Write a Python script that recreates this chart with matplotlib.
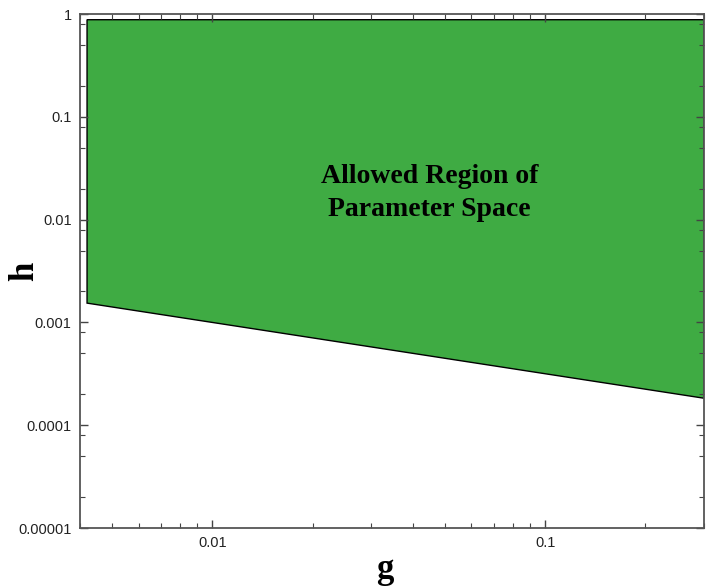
import numpy as np
import matplotlib.pyplot as plt
from matplotlib.ticker import LogLocator, FixedLocator, FixedFormatter, NullFormatter

# corners of the allowed region
g_edge = [0.0042, 0.3]
h_low = [0.00154, 0.000183]
h_top = 0.88

x_ticks = [0.01, 0.1]
x_labels = ['0.01', '0.1']
y_ticks = [1e-5, 1e-4, 1e-3, 1e-2, 1e-1, 1]
y_labels = ['0.00001', '0.0001', '0.001', '0.01', '0.1', '1']

fig = plt.figure(figsize=(7.17, 5.86), dpi=100)
ax = fig.add_axes([80 / 717, 58 / 586, 624 / 717, 514 / 586])

poly_g = [g_edge[0], g_edge[1], g_edge[1], g_edge[0]]
poly_h = [h_low[0], h_low[1], h_top, h_top]
ax.fill(poly_g, poly_h, facecolor='#3fab43', edgecolor='black', linewidth=1.0)

ax.set_xscale('log')
ax.set_yscale('log')
ax.set_xlim(0.004, 0.3)
ax.set_ylim(1e-5, 1)

ax.xaxis.set_major_locator(FixedLocator(x_ticks))
ax.xaxis.set_major_formatter(FixedFormatter(x_labels))
ax.xaxis.set_minor_locator(LogLocator(base=10, subs=np.arange(2, 10)))
ax.xaxis.set_minor_formatter(NullFormatter())
ax.yaxis.set_major_locator(FixedLocator(y_ticks))
ax.yaxis.set_major_formatter(FixedFormatter(y_labels))
ax.yaxis.set_minor_locator(LogLocator(base=10, subs=(2, 5, 8)))
ax.yaxis.set_minor_formatter(NullFormatter())

ax.tick_params(which='both', direction='in', top=True, right=True,
               colors='#444444', labelcolor='#222222')
ax.tick_params(which='major', length=6, width=1, labelsize=10.5,
               labelfontfamily='Liberation Sans', pad=6)
ax.tick_params(which='minor', length=3.5, width=0.8)
for s in ax.spines.values():
    s.set_color('#555555')
    s.set_linewidth(1.3)

ax.set_xlabel('g', family='Liberation Serif', fontweight='bold', fontsize=25)
ax.xaxis.set_label_coords(0.489, -0.048)
ax.set_ylabel('h', family='Liberation Serif', fontweight='bold', fontsize=25)
ax.yaxis.set_label_coords(-0.063, 0.5)

ax.text(0.386, 0.652, 'Allowed Region of\n Parameter Space', transform=ax.transAxes,
        family='Liberation Serif', fontweight='bold', fontsize=20,
        ha='left', va='center', linespacing=1.4)

fig.savefig('out.png', dpi=100)
